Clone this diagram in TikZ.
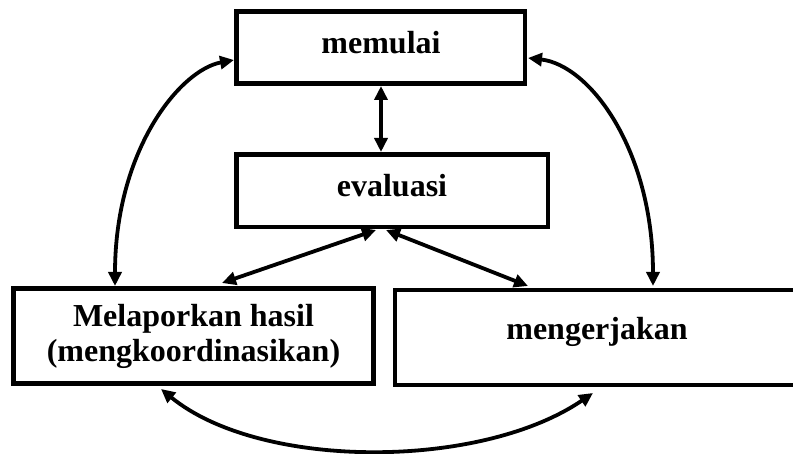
\documentclass[tikz,border=0pt]{standalone}
\usepackage{fontspec}
\setmainfont{Liberation Serif}
\usetikzlibrary{arrows.meta}
\tikzset{
  box/.style={draw=black, line width=4.2pt, fill=none},
  lbl/.style={font=\fontsize{32}{35}\selectfont\bfseries, align=center, inner sep=0pt},
  link/.style={line width=3.8pt, {Triangle[length=14pt,width=13pt]}-{Triangle[length=14pt,width=13pt]}}
}
\begin{document}
\begin{tikzpicture}[x=1pt,y=-1pt]
\useasboundingbox (0,0) rectangle (793,454);
\clip (0,0) rectangle (793,454);
% boxes
\draw[box] (236.5,11.5) rectangle (525,83.5);
\draw[box] (236.5,154.5) rectangle (548,227);
\draw[box] (13.5,288.5) rectangle (373.5,383.5);
\draw[box] (395,290) rectangle (800,385);
% labels
\node[lbl, anchor=base] (mem) at (381,54) {memulai};
\node[lbl, anchor=base] (eva) at (392,197) {evaluasi};
\node[lbl] (mel) at (193.5,336) {Melaporkan hasil\\(mengkoordinasikan)};
\node[lbl, anchor=base] (men) at (597,340) {mengerjakan};
% anchor coordinates
\coordinate (memB) at (381,86);
\coordinate (evaT) at (381,152);
\coordinate (evaBL) at (376,230);
\coordinate (evaBR) at (386,230);
\coordinate (melT) at (222,283);
\coordinate (menT) at (528,286);
\coordinate (memL) at (234,60);
\coordinate (memR) at (528,58);
\coordinate (melTL) at (115,286);
\coordinate (menTR) at (653,286);
\coordinate (melB) at (161,389);
\coordinate (menB) at (593,393);
% connectors
\draw[link] (memB) -- (evaT);
\draw[link] (evaBL) -- (melT);
\draw[link] (evaBR) -- (menT);
\draw[link] (melTL) .. controls (115,150) and (180,70) .. (memL);
\draw[link] (memR) .. controls (590,65) and (653,150) .. (menTR);
\draw[link] (melB) .. controls (260,470) and (480,470) .. (menB);
\end{tikzpicture}
\end{document}
